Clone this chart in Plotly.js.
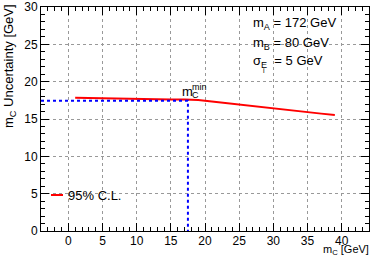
<!DOCTYPE html>
<html>
<head>
<meta charset="utf-8">
<script src="https://cdn.plot.ly/plotly-3.0.1.min.js"></script>
<style>html,body{margin:0;padding:0;background:#fff;}#chart{width:374px;height:262px;}</style>
</head>
<body>
<div id="chart"></div>
<script>
// ---- data ----
const mC = [1, 3, 5, 7, 9, 11, 13, 15, 17, 19, 21, 23, 25, 27, 29, 31, 33, 35, 37, 39];
const uncertainty = [17.85, 17.8, 17.75, 17.72, 17.68, 17.65, 17.62, 17.6, 17.6, 17.55, 17.35, 17.15, 16.95, 16.7, 16.45, 16.25, 16.05, 15.9, 15.72, 15.55];
const mCmin = 17.5;
const uncAtMin = 17.45;
const mA = 172, mB = 80, sigmaE = 5;
const xRange = [-4, 44];
const yRange = [0, 30];
const legendLabel = "95% C.L.";

// ---- layout helpers ----
const W = 374, H = 262;
const M = {l: 41, r: 5, t: 7, b: 31};
const PW = W - M.l - M.r, PH = H - M.t - M.b;
const px = v => (v - M.l) / PW;
const py = v => (H - M.b - v) / PH;
const FONT = "Liberation Sans, Arial, Helvetica, sans-serif";

const traces = [
  {x: mC, y: uncertainty, mode: "lines", line: {color: "#ff0000", width: 2}, hoverinfo: "skip"},
  {x: [xRange[0], mCmin, mCmin], y: [uncAtMin, uncAtMin, yRange[0]], mode: "lines",
   line: {color: "#0000ff", width: 2, dash: "dot"}, hoverinfo: "skip"}
];

const axisCommon = {
  showline: true, linecolor: "#000", linewidth: 1, mirror: "allticks",
  ticks: "inside", ticklen: 8, tickwidth: 1, tickcolor: "#000",
  showgrid: true, gridcolor: "#999", griddash: "dot", gridwidth: 1,
  zeroline: false, tickfont: {family: FONT, size: 12, color: "#000"},
  minor: {dtick: 1, ticks: "inside", ticklen: 4, tickcolor: "#000", showgrid: false}
};

const ann = (x, y, text, opts) => Object.assign({
  xref: "paper", yref: "paper", x: px(x), y: py(y), text: text, showarrow: false,
  xanchor: "left", yanchor: "middle", font: {family: FONT, size: 13, color: "#000"}
}, opts || {});

const layout = {
  width: W, height: H, margin: M, showlegend: false,
  paper_bgcolor: "#fff", plot_bgcolor: "#fff",
  xaxis: Object.assign({}, axisCommon, {range: xRange, dtick: 5, tick0: 0, ticklabelstandoff: -1}),
  yaxis: Object.assign({}, axisCommon, {range: yRange, dtick: 5, tick0: 0}),
  shapes: [
    {type: "line", xref: "paper", yref: "paper", x0: px(51), x1: px(63), y0: py(195), y1: py(195),
     line: {color: "#ff0000", width: 2}}
  ],
  annotations: [
    ann(66, 195, legendLabel),
    ann(251, 24, "m<sub>A</sub> = " + mA + " GeV"),
    ann(251, 43, "m<sub>B</sub> = " + mB + " GeV"),
    ann(251, 61, "σ<sub>E</sub>  = " + sigmaE + " GeV"),
    ann(263.5, 70, "i", {xanchor: "center", font: {family: FONT, size: 7, color: "#000"}}),
    ann(180, 91, "m"),
    ann(190, 87, "min", {font: {family: FONT, size: 9, color: "#000"}}),
    ann(190, 95, "C", {font: {family: FONT, size: 9, color: "#000"}}),
    ann(371, 250, "m<sub>C</sub> [GeV]", {xanchor: "right", font: {family: FONT, size: 11, color: "#000"}}),
    ann(9, 2, "m<sub>C</sub> Uncertainty [GeV]", {xanchor: "center", yanchor: "top", textangle: -90})
  ]
};

Plotly.newPlot("chart", traces, layout, {staticPlot: true, displayModeBar: false});
</script>
</body>
</html>
